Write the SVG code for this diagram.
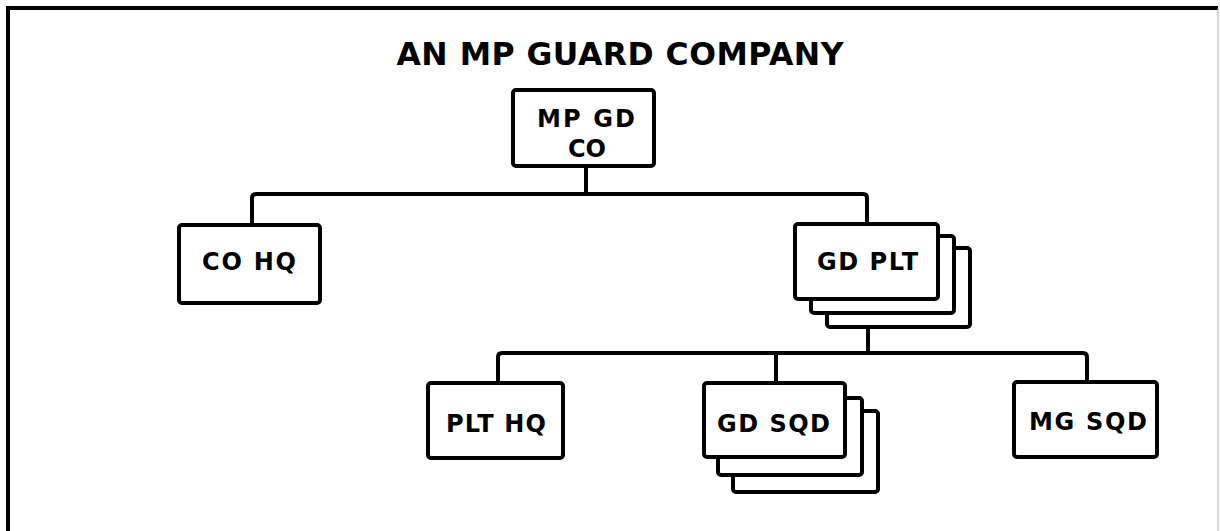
<svg xmlns="http://www.w3.org/2000/svg" width="1220" height="531" viewBox="0 0 1220 531">
<style>
.box{fill:#fff;stroke:#000;stroke-width:4;}
.lbl{font-family:"DejaVu Sans",sans-serif;font-weight:bold;font-size:24px;fill:#000;text-anchor:middle;}
.ttl{font-family:"DejaVu Sans",sans-serif;font-weight:bold;font-size:31.5px;fill:#000;text-anchor:middle;}
.con{fill:none;stroke:#000;stroke-width:4;stroke-linejoin:round;}
</style>
<rect width="1220" height="531" fill="#fff"/>
<g id="frame">
<path d="M8 531 V8 H1218" fill="none" stroke="#000" stroke-width="4"/>
<line x1="1218" y1="8" x2="1218" y2="531" stroke="#aaa" stroke-width="1"/>
</g>
<text id="title" class="ttl" x="620" y="65" textLength="447">AN MP GUARD COMPANY</text>
<g id="connectors">
<path class="con" d="M586 166 V194"/>
<path class="con" d="M252 225 V198 Q252 194 256 194 H863 Q867 194 867 198 V224"/>
<path class="con" d="M868 327 V353"/>
<path class="con" d="M498 383 V357 Q498 353 502 353 H1083 Q1087 353 1087 357 V382"/>
<path class="con" d="M776 353 V383"/>
</g>
<g id="mpgdco">
<rect class="box" x="513" y="90" width="141" height="76" rx="3"/>
<text class="lbl" x="586" y="127" textLength="98">MP GD</text>
<text class="lbl" x="587" y="157">CO</text>
</g>
<g id="cohq">
<rect class="box" x="179" y="225" width="141" height="78" rx="3"/>
<text class="lbl" x="249" y="270" textLength="94">CO HQ</text>
</g>
<g id="gdplt">
<rect class="box" x="827" y="248" width="143" height="79" rx="3"/>
<rect class="box" x="811" y="236" width="143" height="77" rx="3"/>
<rect class="box" x="795" y="224" width="143" height="75" rx="3"/>
<text class="lbl" x="867.5" y="270" textLength="101">GD PLT</text>
</g>
<g id="plthq">
<rect class="box" x="428" y="383" width="135" height="75" rx="3"/>
<text class="lbl" x="496" y="432" textLength="100">PLT HQ</text>
</g>
<g id="gdsqd">
<rect class="box" x="733" y="411" width="145" height="81" rx="3"/>
<rect class="box" x="718" y="398" width="144" height="77" rx="3"/>
<rect class="box" x="704" y="383" width="141" height="74" rx="3"/>
<text class="lbl" x="773.5" y="432" textLength="113">GD SQD</text>
</g>
<g id="mgsqd">
<rect class="box" x="1014" y="382" width="143" height="75" rx="3"/>
<text class="lbl" x="1088" y="430" textLength="118">MG SQD</text>
</g>
</svg>
